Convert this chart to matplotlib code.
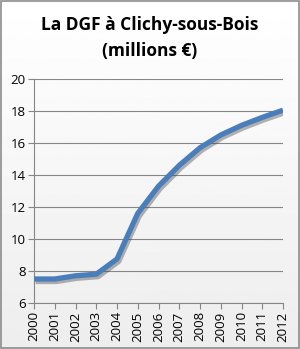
import matplotlib.pyplot as plt
import matplotlib.patheffects as pe
import numpy as np

years = [2000, 2001, 2002, 2003, 2004, 2005, 2006, 2007, 2008, 2009, 2010, 2011, 2012]
dgf = [7.5, 7.5, 7.7, 7.8, 8.75, 11.6, 13.3, 14.6, 15.7, 16.5, 17.1, 17.6, 18.05]
yticks = [6, 8, 10, 12, 14, 16, 18, 20]

fig = plt.figure(figsize=(3.0, 3.49), dpi=100)
fig.patch.set_facecolor('white')

# light gradient background behind the plot area
bg = fig.add_axes([0, 0, 1, 1], zorder=-1)
grad = np.linspace(1.0, 0.93, 256).reshape(-1, 1)
bg.imshow(grad, aspect='auto', cmap='gray', vmin=0, vmax=1, extent=[0, 1, 0, 1])
bg.set_xlim(0, 1)
bg.set_ylim(0, 1)
bg.axis('off')
border = plt.Rectangle((0.002, 0.002), 0.995, 0.995, transform=fig.transFigure,
                       fill=False, edgecolor='#8c8c8c', linewidth=1.2)
fig.patches.append(border)

ax = fig.add_axes([34 / 300, 1 - 303 / 349, 249 / 300, 224 / 349])
ax.patch.set_alpha(0)
ax.plot(years, dgf, color='#4a7ebb', linewidth=3.8, solid_joinstyle='round',
        solid_capstyle='butt', zorder=3,
        path_effects=[pe.SimpleLineShadow(offset=(1.2, -1.8), shadow_color='#444444', alpha=0.4),
                      pe.Normal()])

ax.set_xlim(2000, 2012)
ax.set_ylim(6, 20)
ax.set_yticks(yticks)
ax.set_xticks(years)
ax.set_xticklabels([str(y) for y in years], rotation=90)
ax.grid(axis='y', color='#868686', linewidth=0.8)
ax.set_axisbelow(True)
for s in ['top', 'right']:
    ax.spines[s].set_visible(False)
for s in ['left', 'bottom']:
    ax.spines[s].set_color('#868686')
    ax.spines[s].set_linewidth(0.8)
ax.tick_params(axis='both', colors='#868686', length=4, width=0.8, direction='out',
               labelcolor='black', labelsize=9.5, pad=2)
for lab in ax.get_xticklabels() + ax.get_yticklabels():
    lab.set_family('Open Sans')

fig.text(0.5, 0.927, 'La DGF à Clichy-sous-Bois', ha='center', va='center',
         fontsize=12.5, fontweight='bold', family='Open Sans')
fig.text(0.5, 0.855, '(millions €)', ha='center', va='center',
         fontsize=12.5, fontweight='bold', family='Open Sans')

fig.savefig('out.png', dpi=100)
